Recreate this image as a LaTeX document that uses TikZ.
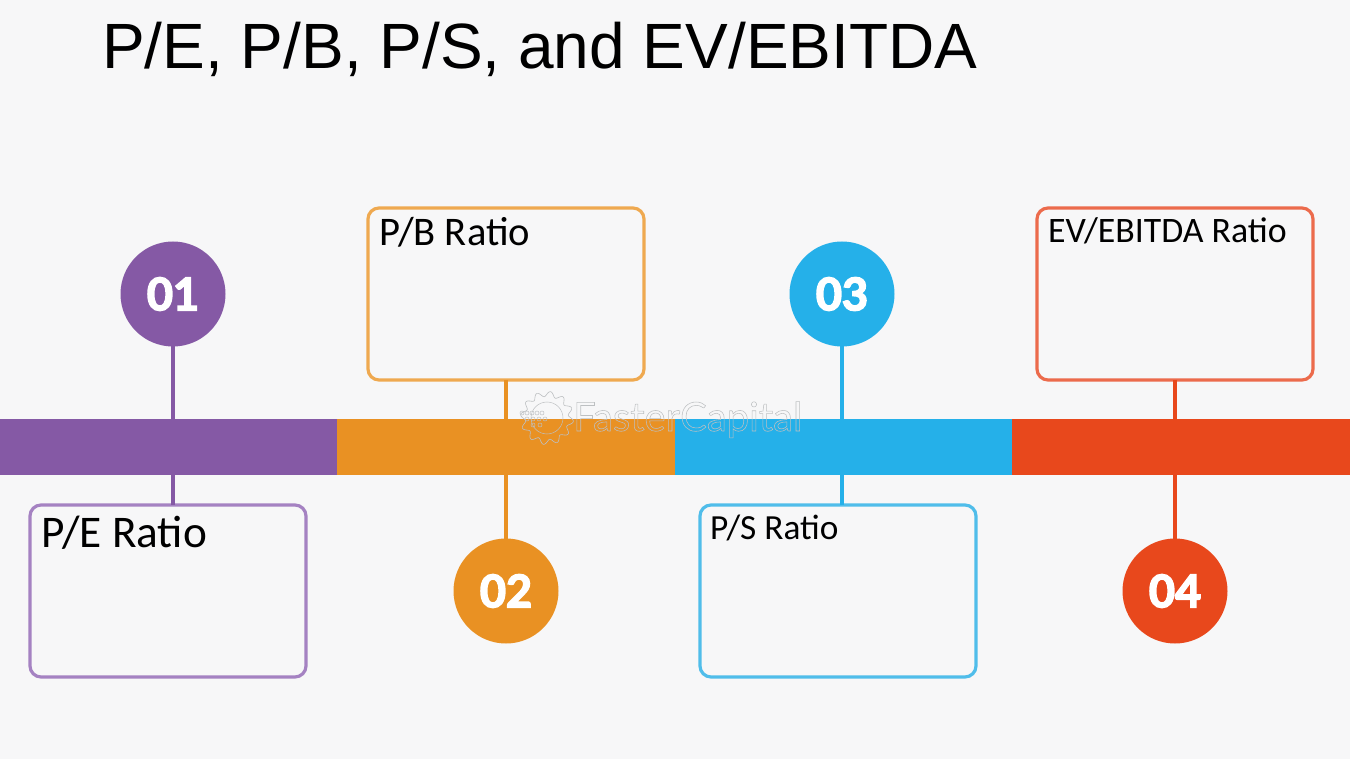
\documentclass[tikz,border=0pt]{standalone}
\usepackage{fontspec}
\setmainfont{Liberation Sans}
\newfontfamily\labelfont{Carlito}
\newfontfamily\numfont{Lato}
\newfontfamily\wmfont{Lato}
\definecolor{pageBg}{HTML}{F7F7F8}
\definecolor{cPurple}{HTML}{8559A5}
\definecolor{cOrange}{HTML}{E99123}
\definecolor{cBlue}{HTML}{25B0E9}
\definecolor{cRed}{HTML}{E8481C}
\definecolor{ePurple}{HTML}{A582C2}
\definecolor{eOrange}{HTML}{EFA950}
\definecolor{eBlue}{HTML}{50BDEA}
\definecolor{eRed}{HTML}{EC6B4C}
\definecolor{wmGrey}{HTML}{BDC0C2}
\newcommand{\heavy}[1]{\special{pdf:literal direct q 2 Tr 1.6 w 1 1 1 RG}#1\special{pdf:literal direct Q}}
\tikzset{
  barseg/.style={draw=none,fill=#1,rectangle,minimum height=56pt,minimum width=338pt,inner sep=0pt,outer sep=0pt},
  numdot/.style={circle,fill=#1,minimum size=105pt,inner sep=0pt,outer sep=0pt,text=white,font=\numfont\bfseries\fontsize{45}{45}\selectfont},
  infobox/.style={draw=#1,line width=3.2pt,rounded corners=11pt,fill=pageBg,minimum width=276pt,minimum height=172pt,inner sep=0pt,outer sep=0pt},
  stem/.style={line width=4.4pt,draw=#1},
  boxlabel/.style={anchor=base west,inner sep=0pt,text=black,font=\labelfont\fontsize{#1}{#1}\selectfont}
}
\begin{document}
\begin{tikzpicture}[x=1pt,y=-1pt]
\useasboundingbox (0,0) rectangle (1350,759);
\fill[pageBg] (0,0) rectangle (1350,759);

\node[anchor=base west,inner sep=0pt,font=\fontsize{64}{64}\selectfont] (title) at (102,69) {P/E, P/B, P/S, and EV/EBITDA};

\node[barseg=cPurple] (bar1) at (168.5,447) {};
\node[barseg=cOrange] (bar2) at (506,447) {};
\node[barseg=cBlue] (bar3) at (843.5,447) {};
\node[barseg=cRed,minimum width=338pt] (bar4) at (1181,447) {};

\node[numdot=cPurple] (dot1) at (173,294) {\heavy{01}};
\node[numdot=cOrange] (dot2) at (506,591) {\heavy{02}};
\node[numdot=cBlue] (dot3) at (842,294) {\heavy{03}};
\node[numdot=cRed] (dot4) at (1175,591) {\heavy{04}};

\node[infobox=ePurple] (box1) at (168,591) {};
\node[infobox=eOrange] (box2) at (506,294) {};
\node[infobox=eBlue] (box3) at (838,591) {};
\node[infobox=eRed] (box4) at (1175,294) {};

\draw[stem=cPurple] (dot1.south) -- (dot1.south |- bar1.north);
\draw[stem=cPurple] (dot1.south |- bar1.south) -- (dot1.south |- box1.north);
\draw[stem=cOrange] (box2.south) -- (box2.south |- bar2.north);
\draw[stem=cOrange] (dot2.north |- bar2.south) -- (dot2.north);
\draw[stem=cBlue] (dot3.south) -- (dot3.south |- bar3.north);
\draw[stem=cBlue] (dot3.south |- bar3.south) -- (dot3.south |- box3.north);
\draw[stem=cRed] (box4.south) -- (box4.south |- bar4.north);
\draw[stem=cRed] (dot4.north |- bar4.south) -- (dot4.north);

\node[boxlabel=45.3] (lab1) at (41,547) {P/E Ratio};
\node[boxlabel=40.6] (lab2) at (379,246) {P/B Ratio};
\node[boxlabel=35.3] (lab3) at (710,539) {P/S Ratio};
\node[boxlabel=35.8] (lab4) at (1048,243) {EV/EBITDA Ratio};

% watermark
\draw[wmGrey,line width=0.6pt] plot[domain=0:360,samples=145,smooth cycle] ({547+(24+2.6*sin(12*\x))*cos(\x)},{418+(24+2.6*sin(12*\x))*sin(\x)});
\draw[wmGrey,line width=0.5pt] (547,418) circle (16);
\foreach \px/\py in {522/413,527/413,532/413,537/413,542/413,527/419,533/419,539/419,545/419,533/425,540/425}
  \draw[wmGrey,line width=0.5pt] (\px,\py) circle (2);
\node[anchor=base west,inner sep=0pt,font=\wmfont\fontsize{40}{40}\selectfont] (wm) at (573,431)
  {\special{pdf:literal direct q 1 Tr 0.55 w}\textcolor{wmGrey}{FasterCapital}\special{pdf:literal direct Q}};
\end{tikzpicture}
\end{document}
